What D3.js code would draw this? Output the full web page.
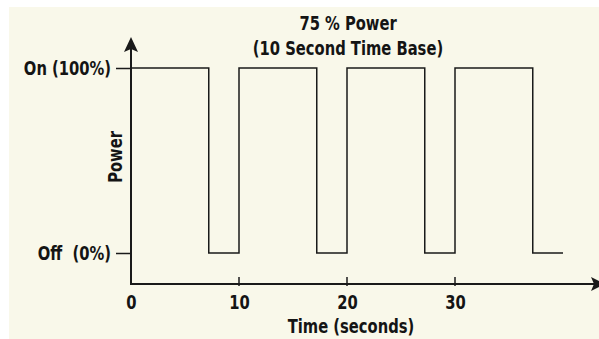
<!DOCTYPE html>
<html>
<head>
<meta charset="utf-8">
<script src="https://cdn.jsdelivr.net/npm/d3@7"></script>
<style>
  html, body { margin: 0; padding: 0; background: #ffffff; }
  svg { display: block; }
  text {
    font-family: "DejaVu Sans", sans-serif; font-stretch: condensed; font-weight: bold;
    fill: #141414; white-space: pre;
    transform-box: fill-box; transform: scaleX(0.82);
  }
  .end text { transform-origin: right center; }
  .mid text, text.mid { transform-origin: center center; }
</style>
</head>
<body>
<div class="chart"></div>
<script>
// Dimensions
const width = 599;
const height = 339;

// Données
const times = [0, 7.2, 10, 17.2, 20, 27.2, 30, 37.2, 40];
const powerLevels = [100, 0, 100, 0, 100, 0, 100, 0, 0];
const xTicks = [0, 10, 20, 30];
const yTicks = [0, 100];
const yTickLabels = ['Off  (0%)', 'On (100%)'];
const titleLines = ['75 % Power', '(10 Second Time Base)'];

const ink = '#1a1a1a';
const fontSize = 20;

const svg = d3.select('.chart')
  .append('svg')
  .attr('width', width)
  .attr('height', height);

// Fond crème
svg.append('rect')
  .attr('x', 9).attr('y', 7)
  .attr('width', width - 9).attr('height', height - 7)
  .attr('fill', '#f9f8ea');

// Echelles
const x = d3.scaleLinear().domain([0, 40]).range([131, 563]);
const y = d3.scaleLinear().domain([0, 100]).range([253, 68]);
const xAxisY = 284;

// Axe vertical (ticks + libellés)
svg.append('g')
  .attr('class', 'end')
  .attr('transform', `translate(${x(0)},0)`)
  .call(d3.axisLeft(y).tickValues(yTicks).tickSize(15).tickPadding(5)
    .tickFormat((d, i) => yTickLabels[i]))
  .call(g => g.select('.domain').remove())
  .call(g => g.selectAll('line').attr('stroke', ink).attr('stroke-width', 1.5))
  .call(g => g.selectAll('text').attr('font-size', fontSize).attr('font-family', null).attr('fill', null));

// Ligne de l'axe vertical avec flèche
svg.append('line')
  .attr('x1', x(0)).attr('x2', x(0))
  .attr('y1', xAxisY).attr('y2', 46)
  .attr('stroke', ink).attr('stroke-width', 2);
svg.append('path')
  .attr('d', `M${x(0)},37 L${x(0) - 7},52 L${x(0)},49 L${x(0) + 7},52 Z`)
  .attr('fill', ink);

// Axe horizontal
svg.append('line')
  .attr('x1', x(0) - 1).attr('x2', 596)
  .attr('y1', xAxisY).attr('y2', xAxisY)
  .attr('stroke', ink).attr('stroke-width', 2);
svg.append('path')
  .attr('d', `M605,${xAxisY} L591,${xAxisY - 7} L594,${xAxisY} L591,${xAxisY + 7} Z`)
  .attr('fill', ink);

svg.append('g')
  .attr('class', 'mid')
  .attr('transform', `translate(0,${xAxisY})`)
  .call(d3.axisBottom(x).tickValues(xTicks).tickSize(0).tickPadding(11))
  .call(g => g.select('.domain').remove())
  .call(g => g.selectAll('text').attr('font-size', fontSize).attr('font-family', null).attr('fill', null));

svg.append('g')
  .selectAll('line')
  .data(xTicks.filter(d => d > 0))
  .join('line')
    .attr('x1', d => x(d)).attr('x2', d => x(d))
    .attr('y1', xAxisY - 7).attr('y2', xAxisY + 2)
    .attr('stroke', ink).attr('stroke-width', 1.5);

// Signal carré
const line = d3.line()
  .x((d, i) => x(times[i]))
  .y(d => y(d))
  .curve(d3.curveStepAfter);

svg.append('path')
  .datum(powerLevels)
  .attr('d', line)
  .attr('fill', 'none')
  .attr('stroke', ink)
  .attr('stroke-width', 1.5);

// Titre
svg.append('g')
  .attr('class', 'mid')
  .attr('text-anchor', 'middle')
  .selectAll('text')
  .data(titleLines)
  .join('text')
    .attr('x', 348)
    .attr('y', (d, i) => 30 + i * 25)
    .attr('font-size', fontSize)
    .text(d => d);

// Titres des axes
svg.append('text')
  .attr('class', 'mid')
  .attr('x', 351).attr('y', 333)
  .attr('text-anchor', 'middle')
  .attr('font-size', fontSize)
  .text('Time (seconds)');

svg.append('g')
  .attr('transform', 'translate(122,157) rotate(-90)')
  .append('text')
    .attr('class', 'mid')
    .attr('text-anchor', 'middle')
    .attr('font-size', fontSize)
    .text('Power');
</script>
</body>
</html>
